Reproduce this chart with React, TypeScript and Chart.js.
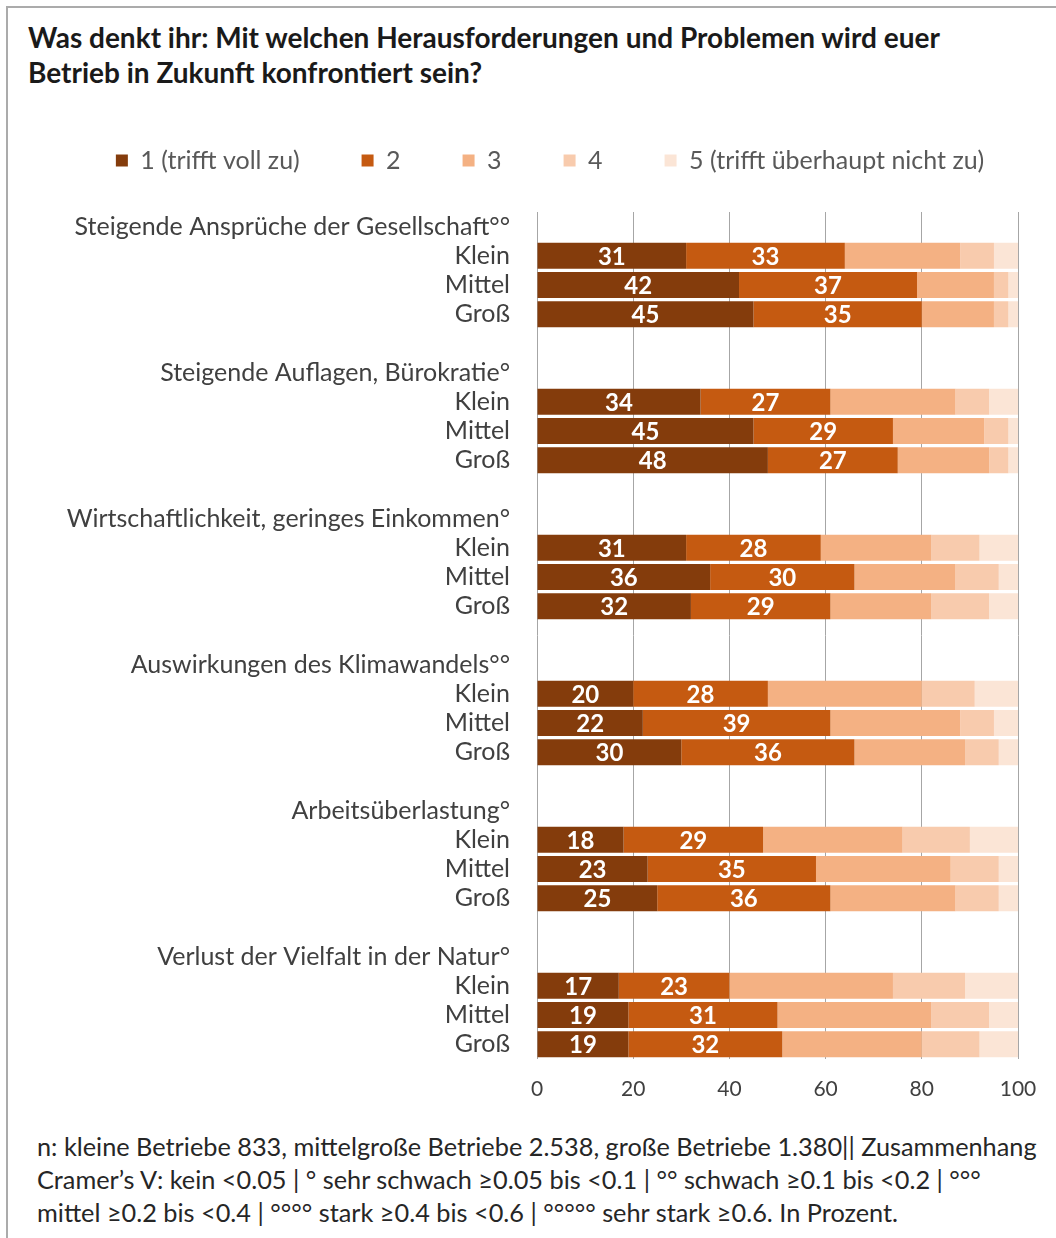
import React, { useEffect, useRef } from "react";
import { Chart, registerables } from "chart.js";

Chart.register(...registerables);

const categories = [
  "Steigende Ansprüche der Gesellschaft°°",
  "Steigende Auflagen, Bürokratie°",
  "Wirtschaftlichkeit, geringes Einkommen°",
  "Auswirkungen des Klimawandels°°",
  "Arbeitsüberlastung°",
  "Verlust der Vielfalt in der Natur°",
];
const sizes = ["Klein", "Mittel", "Groß"];
const seriesNames = ["1 (trifft voll zu)", "2", "3", "4", "5 (trifft überhaupt nicht zu)"];
const seriesColors = ["#843C0C", "#C55A11", "#F4B183", "#F8CBAD", "#FBE5D6"];

// per category: Klein, Mittel, Groß
const s1 = [31, 42, 45, 34, 45, 48, 31, 36, 32, 20, 22, 30, 18, 23, 25, 17, 19, 19];
const s2 = [33, 37, 35, 27, 29, 27, 28, 30, 29, 28, 39, 36, 29, 35, 36, 23, 31, 32];
const s3 = [24, 16, 15, 26, 19, 19, 23, 21, 21, 32, 27, 23, 29, 28, 26, 34, 32, 29];
const s4 = [7, 3, 3, 7, 5, 4, 10, 9, 12, 11, 7, 7, 14, 10, 9, 15, 12, 12];
const s5 = [5, 2, 2, 6, 2, 2, 8, 4, 6, 9, 5, 4, 10, 4, 4, 11, 6, 8];
const seriesValues = [s1, s2, s3, s4, s5];

const xTicks = [0, 20, 40, 60, 80, 100];

const titleLines = [
  "Was denkt ihr: Mit welchen Herausforderungen und Problemen wird euer",
  "Betrieb in Zukunft konfrontiert sein?",
];
const footerLines = [
  "n: kleine Betriebe 833, mittelgroße Betriebe 2.538, große Betriebe 1.380|| Zusammenhang",
  "Cramer’s V: kein <0.05 | ° sehr schwach ≥0.05 bis <0.1 | °° schwach ≥0.1 bis <0.2 | °°°",
  "mittel ≥0.2 bis <0.4 | °°°° stark ≥0.4 bis <0.6 | °°°°° sehr stark ≥0.6. In Prozent.",
];

const FONT = "Lato, 'Open Sans', sans-serif";

function buildRows() {
  const labels: string[] = [];
  const map: (number | null)[] = [];
  categories.forEach((c, ci) => {
    labels.push(c);
    map.push(null);
    sizes.forEach((s, si) => {
      labels.push(s);
      map.push(ci * sizes.length + si);
    });
    if (ci < categories.length - 1) {
      labels.push("");
      map.push(null);
    }
  });
  return { labels, map };
}

const valueLabels = {
  id: "valueLabels",
  afterDatasetsDraw(chart: any) {
    const ctx = chart.ctx;
    ctx.save();
    ctx.font = `bold 24px ${FONT}`;
    ctx.fillStyle = "#ffffff";
    ctx.textAlign = "center";
    ctx.textBaseline = "middle";
    [0, 1].forEach((di) => {
      const meta = chart.getDatasetMeta(di);
      const ds = chart.data.datasets[di];
      meta.data.forEach((el: any, i: number) => {
        const v = ds.data[i];
        if (v == null) return;
        const p = el.getCenterPoint();
        ctx.fillText(String(v), p.x, p.y + 1);
      });
    });
    ctx.restore();
  },
};

export default function App() {
  const ref = useRef<HTMLCanvasElement | null>(null);

  useEffect(() => {
    if (!ref.current) return;
    const { labels, map } = buildRows();
    const datasets = seriesNames.map((name, k) => ({
      label: name,
      data: map.map((m) => (m == null ? null : seriesValues[k][m])),
      backgroundColor: seriesColors[k],
      borderWidth: 0,
      barPercentage: 0.89,
      categoryPercentage: 1,
      xAxisID: "x",
      yAxisID: "y",
    }));
    const chart = new Chart(ref.current, {
      type: "bar",
      data: { labels, datasets },
      plugins: [valueLabels],
      options: {
        indexAxis: "y",
        animation: false,
        responsive: false,
        layout: { padding: { left: 44, right: 0, top: 0, bottom: 10 } },
        plugins: {
          tooltip: { enabled: false },
          legend: {
            position: "top",
            labels: {
              boxWidth: 12,
              boxHeight: 12,
              padding: 62,
              color: "#595959",
              font: { family: FONT, size: 25 },
            },
          },
        },
        scales: {
          x: {
            stacked: true,
            min: 0,
            max: 100,
            afterBuildTicks: (s: any) => {
              s.ticks = xTicks.map((v) => ({ value: v }));
            },
            grid: { color: "#A6A6A6", lineWidth: 1, drawTicks: false },
            border: { display: false },
            ticks: {
              padding: 18,
              color: "#404040",
              font: { family: FONT, size: 21 },
            },
          },
          xTop: {
            type: "linear",
            position: "top",
            display: true,
            grid: { display: false, drawTicks: false },
            border: { display: false },
            ticks: { display: false },
            afterFit: (s: any) => {
              s.height = 29;
            },
          },
          y: {
            stacked: true,
            grid: { display: false, drawTicks: false },
            border: { display: false },
            afterFit: (s: any) => {
              s.width = 493;
            },
            ticks: {
              autoSkip: false,
              padding: 27,
              color: "#404040",
              font: { family: FONT, size: 25 },
            },
          },
          yRight: {
            type: "linear",
            position: "right",
            display: true,
            grid: { display: false, drawTicks: false },
            border: { display: false },
            ticks: { display: false },
            afterFit: (s: any) => {
              s.width = 38;
            },
          },
        },
      } as any,
    });
    return () => chart.destroy();
  }, []);

  return (
    <div
      style={{
        position: "absolute",
        left: 0,
        top: 0,
        width: 1056,
        height: 1238,
        background: "#ffffff",
        overflow: "hidden",
      }}
    >
      <div
        style={{
          position: "absolute",
          left: 6,
          top: 6,
          width: 1052,
          height: 1234,
          borderTop: "2px solid #ABABAB",
          borderLeft: "2px solid #ABABAB",
        }}
      />
      <div
        style={{
          position: "absolute",
          left: 28,
          top: 20,
          fontFamily: FONT,
          fontWeight: 700,
          fontSize: 28,
          lineHeight: "35px",
          color: "#1a1a1a",
          whiteSpace: "nowrap",
        }}
      >
        {titleLines.map((t, i) => (
          <div key={i}>{t}</div>
        ))}
      </div>
      <canvas
        ref={ref}
        width={1056}
        height={1044}
        style={{ position: "absolute", left: 0, top: 86, width: 1056, height: 1044 }}
      />
      <div
        style={{
          position: "absolute",
          left: 37,
          top: 1130,
          fontFamily: FONT,
          fontSize: 25.3,
          lineHeight: "33px",
          color: "#262626",
          whiteSpace: "nowrap",
        }}
      >
        {footerLines.map((t, i) => (
          <div key={i}>{t}</div>
        ))}
      </div>
    </div>
  );
}
